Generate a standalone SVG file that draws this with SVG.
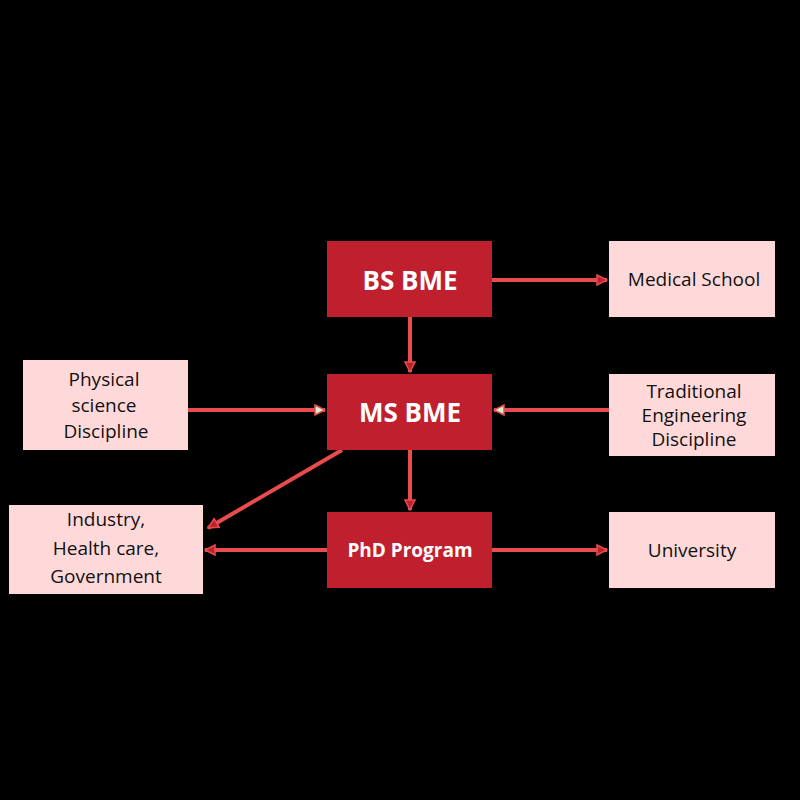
<svg xmlns="http://www.w3.org/2000/svg" width="800" height="800" viewBox="0 0 800 800">
<defs>
<marker id="ad" viewBox="0 0 12 12" refX="11" refY="6" markerWidth="12" markerHeight="12" markerUnits="userSpaceOnUse" orient="auto"><path d="M1,1 L11,6 L1,11 Z" fill="#c0202e" stroke="#e84c4c" stroke-width="1.5"/></marker>
<marker id="ag" viewBox="0 0 12 12" refX="11" refY="6" markerWidth="12" markerHeight="12" markerUnits="userSpaceOnUse" orient="auto"><path d="M1,1 L11,6 L1,11 Z" fill="#d8f0d0" stroke="#e84c4c" stroke-width="1.5"/></marker>
<style>
.d{fill:#c0202e}.l{fill:#ffd9d9}
.td{font-family:"Open Sans",sans-serif;font-weight:bold;fill:#fff;text-anchor:middle}
.tl{font-family:"Open Sans",sans-serif;font-size:19px;fill:#111;text-anchor:middle}
.c{stroke:#e84c4c;stroke-width:4;fill:none}
</style>
</defs>
<rect width="800" height="800" fill="#000"/>
<g id="connectors">
<line class="c" x1="492" y1="280" x2="607" y2="280" marker-end="url(#ad)" style="stroke-width:4"/>
<line class="c" x1="410" y1="317" x2="410" y2="372" marker-end="url(#ad)"/>
<line class="c" x1="188" y1="410" x2="325" y2="410" marker-end="url(#ag)"/>
<line class="c" x1="609" y1="410" x2="494" y2="410" marker-end="url(#ag)"/>
<line class="c" x1="410" y1="450" x2="410" y2="510" marker-end="url(#ad)"/>
<line class="c" x1="342" y1="450" x2="208" y2="528" marker-end="url(#ad)"/>
<line class="c" x1="327" y1="550" x2="205" y2="550" marker-end="url(#ad)"/>
<line class="c" x1="492" y1="550" x2="607" y2="550" marker-end="url(#ad)"/>
</g>
<g id="bs"><rect class="d" x="327" y="241" width="165" height="76"/><text class="td" x="410" y="290" font-size="26">BS BME</text></g>
<g id="ms"><rect class="d" x="327" y="374" width="165" height="76"/><text class="td" x="410" y="422" font-size="26">MS BME</text></g>
<g id="phd"><rect class="d" x="327" y="512" width="165" height="76"/><text class="td" x="410" y="557" font-size="19">PhD Program</text></g>
<g id="med"><rect class="l" x="609" y="241" width="166" height="76"/><text class="tl" x="694" y="286">Medical School</text></g>
<g id="phys"><rect class="l" x="23" y="360" width="165" height="90"/><text class="tl" x="104" y="386">Physical</text><text class="tl" x="104" y="412">science</text><text class="tl" x="106" y="438">Discipline</text></g>
<g id="trad"><rect class="l" x="609" y="374" width="166" height="82"/><text class="tl" x="694" y="398">Traditional</text><text class="tl" x="694" y="422">Engineering</text><text class="tl" x="694" y="446">Discipline</text></g>
<g id="ind"><rect class="l" x="9" y="505" width="194" height="89"/><text class="tl" x="106" y="526">Industry,</text><text class="tl" x="106" y="555">Health care,</text><text class="tl" x="106" y="583">Government</text></g>
<g id="uni"><rect class="l" x="609" y="512" width="166" height="76"/><text class="tl" x="692" y="557">University</text></g>
</svg>
